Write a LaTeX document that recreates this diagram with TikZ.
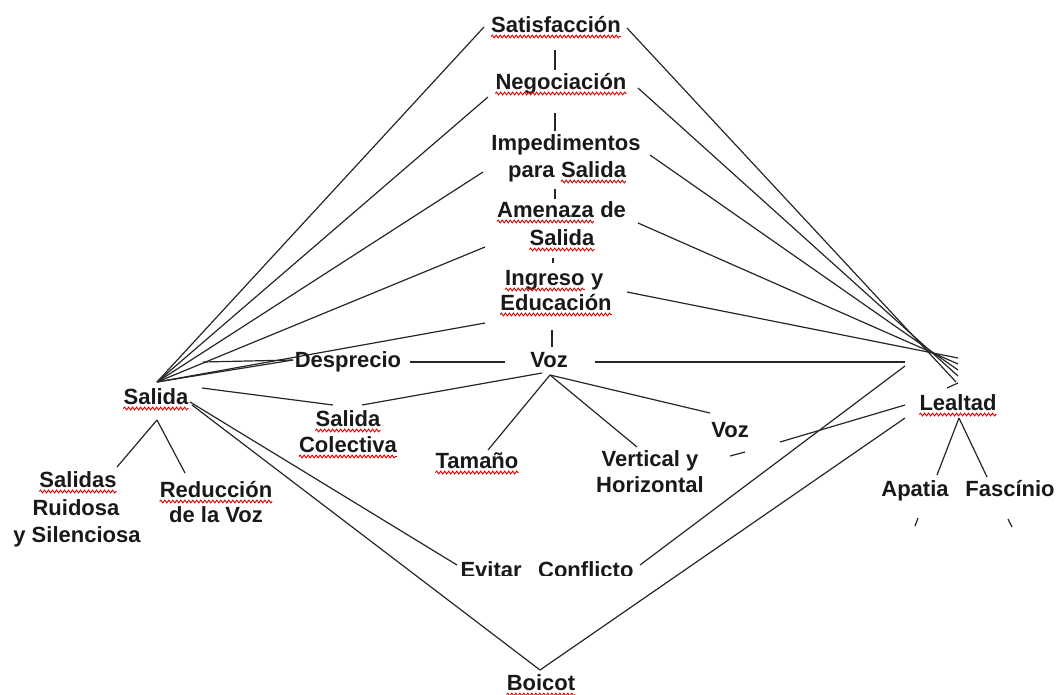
\documentclass[tikz,border=0pt]{standalone}
\usepackage{fontspec}
\setmainfont{Liberation Sans}
\usetikzlibrary{decorations.pathmorphing}
\tikzset{
  lbl/.style={font=\fontsize{22}{26}\selectfont\bfseries, anchor=base, inner sep=0pt, text=black!90},
  lblw/.style={lbl, anchor=base west},
  ln/.style={line width=1.2pt, draw=black!85},
  sqline/.style={draw=red!85!black, line width=0.9pt, decorate,
    decoration={snake, amplitude=1.4pt, segment length=4pt}}
}
\begin{document}
\begin{tikzpicture}[x=1pt,y=-1pt]
\useasboundingbox (0,0) rectangle (1059,694);
% ---- text nodes ----
\node[lbl] (sat)  at (556,32)  {Satisfacción};
\node[lbl] (neg)  at (561,89)  {Negociación};
\node[lbl] (imp1) at (566,150) {Impedimentos};
\node[lblw] (imp2a) at (508,177) {para};
\node[lblw] (imp2b) at ([xshift=6.1pt]imp2a.base east) {Salida};
\node[lblw] (ame1a) at (497,217) {Amenaza};
\node[lblw] (ame1b) at ([xshift=6.1pt]ame1a.base east) {de};
\node[lbl] (ame2) at (562,245) {Salida};
\node[lblw] (ing1a) at (505,285) {Ingreso};
\node[lblw] (ing1b) at ([xshift=6.1pt]ing1a.base east) {y};
\node[lbl] (ing2) at (556,310) {Educación};
\node[lbl] (voz)  at (549,367) {Voz};
\node[lbl] (des)  at (348,367) {Desprecio};
\node[lbl] (sal)  at (156,404) {Salida};
\node[lbl] (col1) at (348,426) {Salida};
\node[lbl] (col2) at (348,452) {Colectiva};
\node[lbl] (tam)  at (477,468) {Tamaño};
\node[lbl] (ver1) at (650,466) {Vertical y};
\node[lbl] (ver2) at (650,492) {Horizontal};
\node[lbl] (voz2) at (730,437) {Voz};
\node[lbl] (lea)  at (958,410) {Lealtad};
\node[lbl] (apa)  at (915,496) {Apatia};
\node[lbl] (fas)  at (1010,496) {Fascínio};
\node[lbl] (sr1)  at (78,487)  {Salidas};
\node[lbl] (sr2)  at (76,515)  {Ruidosa};
\node[lbl] (sr3)  at (77,542)  {y Silenciosa};
\node[lbl] (red1) at (216,497) {Reducción};
\node[lbl] (red2) at (216,522) {de la Voz};
\begin{scope}
  \clip (400,540) rectangle (700,575);
  \node[lbl] (evi) at (547,577) {Evitar\hspace{0.75em}Conflicto};
\end{scope}
\node[lbl] (boi)  at (541,690) {Boicot};
% ---- wavy spell-check underlines ----
\foreach \n in {sat,neg,imp2b,ame1a,ame2,ing1a,ing2,sal,col1,col2,tam,lea,sr1,red1,boi}
  \draw[sqline] ([yshift=-4.5pt]\n.base west) -- ([yshift=-4.5pt]\n.base east);
% ---- connector end points ----
\coordinate (L) at (157,382);
\coordinate (V) at (550,375);
\coordinate (B) at (540,670);
\coordinate (satL) at (484,27);  \coordinate (satR) at (627,28);
\coordinate (negL) at (488,97);  \coordinate (negR) at (638,88);
\coordinate (impL) at (483,172); \coordinate (impR) at (650,155);
\coordinate (ameL) at (485,247); \coordinate (ameR) at (638,223);
\coordinate (ingL) at (485,323); \coordinate (ingR) at (627,292);
\coordinate (e1) at (956,382); \coordinate (e2) at (958,376);
\coordinate (e3) at (958,370); \coordinate (e4) at (958,364);
\coordinate (e5) at (958,358);
\coordinate (desL) at (293,360); \coordinate (hz) at (203,362);
\coordinate (desR) at (410,362); \coordinate (vozL) at (505,362);
\coordinate (vozR) at (595,362); \coordinate (leaA) at (905,362);
\coordinate (salC) at (202,388); \coordinate (colL) at (333,405);
\coordinate (colR) at (362,405); \coordinate (vozC) at (542,373);
\coordinate (tamT) at (488,450); \coordinate (verT) at (637,447);
\coordinate (voz2T) at (710,413);
\coordinate (salE) at (190,402); \coordinate (eviL) at (457,565);
\coordinate (salB) at (192,405);
\coordinate (eviR) at (640,565); \coordinate (leaE) at (905,366);
\coordinate (voz2R) at (780,442); \coordinate (leaV) at (905,405);
\coordinate (leaB) at (905,418);
\coordinate (leaD) at (959,418); \coordinate (apaT) at (937,475); \coordinate (fasT) at (987,477);
\coordinate (salD) at (157,420); \coordinate (srT) at (117,467); \coordinate (redT) at (185,473);
% ---- connectors ----
\draw[ln] (555,50) -- (555,70);
\draw[ln] (555,113) -- (555,131);
\draw[ln] (555,189) -- (555,199);
\draw[ln] (553,258) -- (553,263);
\draw[ln] (552,330) -- (552,347);
\foreach \t in {satL,negL,impL,ameL,ingL,desL} \draw[ln] (L) -- (\t);
\draw[ln] (hz) -- (desL);
\draw[ln] (satR) -- (e1);
\draw[ln] (negR) -- (e2);
\draw[ln] (impR) -- (e3);
\draw[ln] (ameR) -- (e4);
\draw[ln] (ingR) -- (e5);
\draw[ln] (947,388) -- (958,383);
\draw[ln] (desR) -- (vozL);
\draw[ln] (vozR) -- (leaA);
\draw[ln] (salC) -- (colL);
\draw[ln] (colR) -- (vozC);
\draw[ln] (V) -- (tamT);
\draw[ln] (V) -- (verT);
\draw[ln] (V) -- (voz2T);
\draw[ln] (salE) -- (eviL);
\draw[ln] (salB) -- (B);
\draw[ln] (B) -- (leaB);
\draw[ln] (eviR) -- (leaE);
\draw[ln] (voz2R) -- (leaV);
\draw[ln] (730,456) -- (745,452);
\draw[ln] (leaD) -- (apaT);
\draw[ln] (leaD) -- (fasT);
\draw[ln] (salD) -- (srT);
\draw[ln] (salD) -- (redT);
\draw[ln] (918,518) -- (915,526);
\draw[ln] (1008,519) -- (1012,527);
\end{tikzpicture}
\end{document}
